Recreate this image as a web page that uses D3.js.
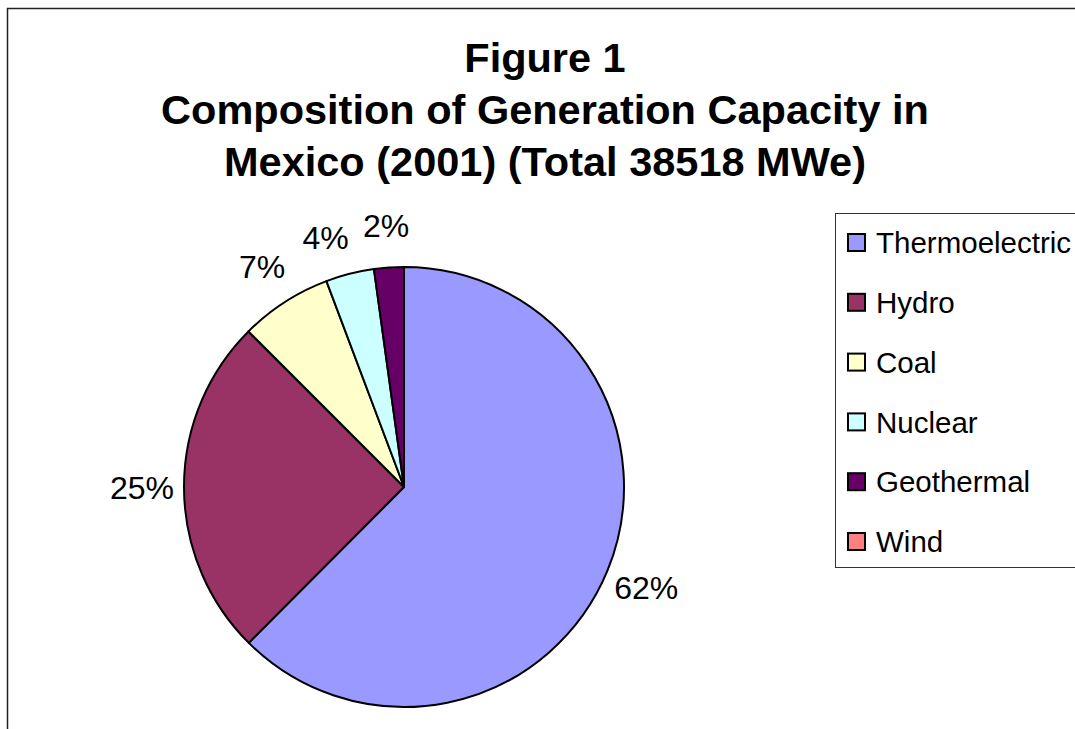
<!DOCTYPE html>
<html>
<head>
<meta charset="utf-8">
<script src="https://cdn.jsdelivr.net/npm/d3@7"></script>
<style>
  body { margin: 0; background: #fff; }
  svg { display: block; font-family: "Liberation Sans", Arial, sans-serif; }
</style>
</head>
<body>
<div id="chart"></div>
<script>
// generation capacity, MWe
var categories = ["Thermoelectric", "Hydro", "Coal", "Nuclear", "Geothermal", "Wind"];
var capacity = [24000, 9619, 2600, 1365, 838, 0];
var colors = ["#9999FF", "#993366", "#FFFFCC", "#CCFFFF", "#660066", "#FF8080"];
var titleLines = ["Figure 1", "Composition of Generation Capacity in", "Mexico (2001) (Total 38518 MWe)"];

var width = 1075, height = 729;
var cx = 404, cy = 487, radius = 220;

var svg = d3.select("#chart").append("svg")
  .attr("width", width)
  .attr("height", height);

svg.append("rect")
  .attr("width", width).attr("height", height)
  .attr("fill", "#fff");

// chart area border (runs off the right and bottom)
svg.append("rect")
  .attr("x", 7.5).attr("y", 8.5)
  .attr("width", 1100).attr("height", 800)
  .attr("fill", "none")
  .attr("stroke", "#222")
  .attr("stroke-width", 1.5);

// title
svg.append("g").selectAll("text")
  .data(titleLines)
  .enter().append("text")
  .attr("x", 545)
  .attr("y", function(d, i) { return 72 + i * 52; })
  .attr("text-anchor", "middle")
  .style("font-size", "41.5px")
  .style("font-weight", "bold")
  .text(function(d) { return d; });

var data = categories.map(function(c, i) {
  return { name: c, value: capacity[i], color: colors[i] };
});
var total = d3.sum(capacity);
var fmt = d3.format(".0%");

var pie = d3.pie()
  .sort(null)
  .value(function(d) { return d.value; });
var arcs = pie(data);

var arc = d3.arc().innerRadius(0).outerRadius(radius);

var g = svg.append("g")
  .attr("transform", "translate(" + cx + "," + cy + ")");

var shown = arcs.filter(function(d) { return d.value > 0; });

g.selectAll("path")
  .data(shown)
  .enter().append("path")
  .attr("d", arc)
  .attr("fill", function(d) { return d.data.color; })
  .attr("stroke", "#000")
  .attr("stroke-width", 2)
  .attr("stroke-linejoin", "round");

// percentage labels outside the rim
var labelR = radius + 42, labelSize = 32;
var labels = g.selectAll(".lbl")
  .data(shown)
  .enter().append("text")
  .attr("class", "lbl")
  .attr("dy", "0.36em")
  .attr("text-anchor", "middle")
  .style("font-size", labelSize + "px")
  .text(function(d) { return fmt(d.value / total); });

labels.each(function(d) {
  d.lw = this.getComputedTextLength();
  d.la = (d.startAngle + d.endAngle) / 2;
});

function box(d) {
  var x = labelR * Math.sin(d.la), y = -labelR * Math.cos(d.la);
  return { l: x - d.lw / 2, r: x + d.lw / 2, t: y - labelSize * 0.4, b: y + labelSize * 0.4 };
}

// nudge crowded labels back along the circle so they don't touch
for (var i = shown.length - 2; i >= 0; i--) {
  var next = shown[i + 1];
  var k = 0;
  while (k++ < 200) {
    var a = box(shown[i]), b = box(next);
    var hit = a.r + 14 > b.l && a.l < b.r + 14 && a.b > b.t && a.t < b.b;
    if (!hit) break;
    shown[i].la -= 0.005;
  }
}

labels
  .attr("x", function(d) { return labelR * Math.sin(d.la); })
  .attr("y", function(d) { return -labelR * Math.cos(d.la); });

// legend
var legend = svg.append("g");
legend.append("rect")
  .attr("x", 835.5).attr("y", 213.5)
  .attr("width", 300).attr("height", 354)
  .attr("fill", "#fff")
  .attr("stroke", "#333")
  .attr("stroke-width", 1);

var item = legend.selectAll(".item")
  .data(data)
  .enter().append("g")
  .attr("class", "item")
  .attr("transform", function(d, i) { return "translate(848," + (242.5 + i * 59.8) + ")"; });

item.append("rect")
  .attr("x", 0).attr("y", -8.5)
  .attr("width", 17).attr("height", 17)
  .attr("fill", function(d) { return d.color; })
  .attr("stroke", "#000")
  .attr("stroke-width", 2);

item.append("text")
  .attr("x", 28)
  .attr("y", 0)
  .attr("dy", "0.36em")
  .style("font-size", "29.5px")
  .text(function(d) { return d.name; });
</script>
</body>
</html>
